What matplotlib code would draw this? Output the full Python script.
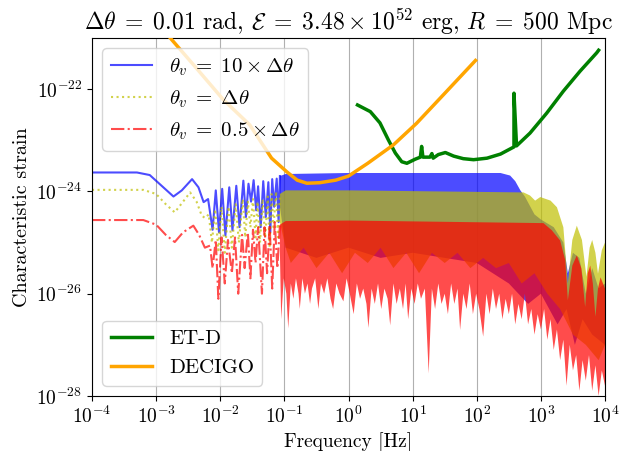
import numpy as np
import matplotlib.pyplot as plt

plt.rcParams['font.family'] = ['cmr10', 'DejaVu Serif']
plt.rcParams['mathtext.fontset'] = 'cm'
plt.rcParams['axes.formatter.use_mathtext'] = True

# log10 frequency / log10 strain, low-frequency part of each signal
blue_logf = [-4.0, -3.3, -3.1, -2.95, -2.73, -2.6, -2.44, -2.34, -2.26, -2.19,
             -2.12, -2.07, -2.02, -1.97, -1.92, -1.86, -1.81, -1.75, -1.70, -1.64,
             -1.60, -1.56, -1.52, -1.48, -1.44, -1.41, -1.37, -1.33, -1.29, -1.25,
             -1.22, -1.19, -1.16, -1.12, -1.09, -1.07]
blue_logh = [-23.63, -23.63, -23.68, -23.85, -24.10, -23.98, -23.76, -23.92, -24.21, -24.15,
             -24.75, -23.98, -24.80, -23.95, -24.86, -23.92, -24.76, -23.89, -24.70, -23.79,
             -24.50, -23.85, -24.20, -23.78, -24.37, -23.90, -24.70, -23.80, -24.50, -23.82,
             -24.80, -23.76, -24.30, -23.75, -24.60, -23.70]

yel_logf = [-4.0, -3.2, -3.0, -2.85, -2.71, -2.58, -2.47, -2.37, -2.29, -2.24,
            -2.18, -2.13, -2.08, -2.03, -1.98, -1.93, -1.87, -1.82, -1.76, -1.71,
            -1.65, -1.61, -1.57, -1.53, -1.49, -1.45, -1.42, -1.38, -1.34, -1.30,
            -1.26, -1.23, -1.20, -1.17, -1.13, -1.10, -1.07]
yel_logh = [-23.97, -23.97, -24.05, -24.25, -24.41, -24.20, -24.02, -24.20, -24.47, -24.52,
            -24.45, -25.00, -24.35, -25.15, -24.30, -25.20, -24.30, -25.10, -24.25, -25.00,
            -24.15, -24.90, -24.20, -24.70, -24.15, -24.90, -24.20, -25.00, -24.15, -24.90,
            -24.10, -25.10, -24.05, -24.70, -24.00, -24.90, -24.05]

red_logf = [-4.0, -3.2, -3.0, -2.85, -2.71, -2.58, -2.42, -2.33, -2.24, -2.16,
            -2.12, -2.07, -2.03, -1.98, -1.93, -1.88, -1.82, -1.77, -1.72, -1.66,
            -1.62, -1.57, -1.53, -1.49, -1.45, -1.41, -1.35, -1.31, -1.27, -1.23,
            -1.19, -1.15, -1.11, -1.07]
red_logh = [-24.56, -24.56, -24.65, -24.85, -24.99, -24.80, -24.67, -24.85, -25.10, -25.06,
            -25.50, -24.95, -26.10, -24.90, -25.80, -24.95, -25.60, -24.90, -26.00, -24.85,
            -25.50, -24.80, -25.70, -24.75, -25.40, -24.70, -26.00, -24.70, -25.60, -24.65,
            -25.90, -24.60, -25.50, -24.65]

# dense high-frequency bands: upper and lower edges
blue_top_f = [-1.07, -0.98, 0.0, 2.37, 2.52, 2.60, 2.68, 2.75, 2.90, 3.00, 3.20, 3.35, 3.42,
              3.50, 3.60, 3.70, 3.80, 3.90, 4.00]
blue_top_h = [-23.70, -23.66, -23.64, -23.64, -23.69, -23.80, -23.98, -24.10, -24.45, -24.55,
              -24.70, -25.00, -25.60, -25.20, -25.30, -26.00, -25.50, -25.90, -25.80]
blue_bot_f = [-1.07, -0.98, -0.5, 0.0, 0.5, 1.0, 1.5, 2.0, 2.5, 2.8, 3.0, 3.26, 3.4, 3.53,
              3.65, 3.8, 4.0]
blue_bot_h = [-24.3, -25.1, -25.3, -25.1, -25.3, -25.2, -25.3, -25.4, -25.8, -26.2, -26.0,
              -26.6, -26.3, -27.0, -26.5, -26.8, -27.0]

yel_top_f = [-1.07, -0.98, 0.0, 2.73, 2.83, 2.91, 2.99, 3.15, 3.25, 3.35, 3.42, 3.49, 3.56,
             3.64, 3.71, 3.76, 3.80, 3.85, 3.89, 3.95, 4.00]
yel_top_h = [-24.05, -23.98, -23.98, -24.02, -24.08, -24.18, -24.11, -24.18, -24.31, -24.70,
             -25.80, -24.95, -24.67, -24.95, -25.67, -25.10, -24.95, -25.20, -25.61, -25.15,
             -25.00]
yel_bot_f = [-1.07, -0.98, -0.9, -0.7, -0.5, -0.3, -0.1, 0.1, 0.3, 0.5, 0.7, 0.9, 1.1, 1.3,
             1.5, 1.7, 1.9, 2.1, 2.3, 2.5, 2.7, 2.9, 3.1, 3.3, 3.5, 3.7, 3.9, 4.0]
yel_bot_h = [-24.6, -25.1, -25.4, -25.1, -25.5, -25.2, -25.6, -25.2, -25.4, -25.1, -25.5,
             -25.2, -25.6, -25.2, -25.4, -25.2, -25.5, -25.3, -25.5, -25.4, -25.8, -25.6,
             -26.0, -26.3, -26.8, -27.0, -27.3, -27.0]

red_top_f = [-1.07, -0.98, 0.0, 3.04, 3.17, 3.30, 3.38, 3.42, 3.49, 3.56, 3.63, 3.69, 3.73,
             3.77, 3.81, 3.85, 3.89, 3.93, 4.00]
red_top_h = [-24.65, -24.58, -24.57, -24.62, -24.76, -24.96, -25.35, -26.13, -25.45, -25.25,
             -25.50, -26.26, -25.60, -25.45, -25.80, -26.45, -25.90, -25.68, -25.90]
red_bot_f = [-1.07, -1.05, -1.01, -0.97, -0.94, -0.90, -0.86, -0.82, -0.78, -0.76, -0.72,
             -0.68, -0.64, -0.60, -0.57, -0.52, -0.47, -0.43, -0.38, -0.33, -0.28, -0.24,
             -0.19, -0.14, -0.08, -0.03, 0.02, 0.08, 0.13, 0.18, 0.23, 0.28, 0.31, 0.36,
             0.41, 0.46, 0.51, 0.56, 0.61, 0.65, 0.70, 0.75, 0.80, 0.85, 0.89, 0.93, 0.98,
             1.03, 1.08, 1.13, 1.19, 1.25, 1.30, 1.35, 1.40, 1.45, 1.50, 1.55, 1.60, 1.65,
             1.70, 1.74, 1.79, 1.84, 1.89, 1.94, 1.99, 2.04, 2.10, 2.15, 2.20, 2.25, 2.30,
             2.35, 2.40, 2.45, 2.50, 2.55, 2.60, 2.65, 2.70, 2.75, 2.80, 2.85, 2.90, 2.95,
             3.00, 3.05, 3.10, 3.15, 3.20, 3.25, 3.30, 3.35, 3.40, 3.45, 3.50, 3.55, 3.60,
             3.65, 3.70, 3.75, 3.80, 3.85, 3.90, 3.95, 4.00]
red_bot_h = [-25.2, -26.5, -25.7, -26.0, -26.68, -25.8, -26.1, -25.7, -26.0, -26.3, -25.7,
             -26.0, -25.8, -26.2, -25.9, -25.7, -26.3, -25.8, -26.0, -25.7, -26.1, -26.3,
             -25.8, -26.0, -26.15, -25.7, -26.0, -26.4, -25.8, -26.1, -25.9, -26.2, -26.67, -25.9,
             -26.2, -25.8, -26.3, -25.9, -26.1, -26.62, -25.8, -26.2, -25.9, -26.3, -25.8, -26.5, -25.9,
             -26.2, -25.8, -26.1, -25.9, -27.56, -25.9, -26.3, -25.8, -26.2, -26.0, -26.4, -25.8, -26.2,
             -25.9, -26.71, -26.0, -26.3, -25.8, -26.4, -26.0, -26.3, -26.84, -26.0, -26.4, -25.9, -26.3,
             -26.0, -26.5, -26.1, -26.4, -26.0, -26.6, -26.2, -26.5, -26.0, -26.6, -26.3, -26.8, -26.4,
             -26.7, -26.3, -26.9, -26.5, -27.1, -26.7, -27.3, -26.9, -27.8, -27.0, -27.5, -27.2, -27.9,
             -27.3, -27.7, -27.2, -27.9, -27.4, -28.0, -27.5, -27.8]

# detector sensitivity curves
etd_logf = [0.14, 0.34, 0.49, 0.62, 0.73, 0.83, 0.91, 1.04, 1.12, 1.14, 1.16, 1.27, 1.30,
            1.32, 1.40, 1.51, 1.64, 1.79, 1.95, 2.16, 2.37, 2.55, 2.58, 2.58, 2.62, 2.83,
            3.09, 3.35, 3.61, 3.87, 3.90]
etd_logh = [-22.31, -22.44, -22.66, -22.99, -23.25, -23.42, -23.45, -23.37, -23.33, -23.12,
            -23.33, -23.33, -23.26, -23.35, -23.28, -23.24, -23.31, -23.36, -23.38, -23.35,
            -23.27, -23.15, -23.13, -22.08, -23.11, -22.86, -22.47, -22.04, -21.65, -21.29, -21.24]

decigo_logf = [-2.90, -2.78, -2.40, -1.95, -1.54, -1.20, -0.96, -0.80, -0.65, -0.45, -0.20,
               0.0, 0.30, 0.70, 1.06, 1.48, 1.98]
decigo_logh = [-20.80, -21.00, -21.55, -22.21, -22.70, -23.35, -23.62, -23.78, -23.84, -23.83,
               -23.78, -23.70, -23.45, -23.09, -22.67, -22.11, -21.44]


def p10(v):
    return np.power(10.0, np.asarray(v, dtype=float))


def band(ax, top_f, top_h, bot_f, bot_h, color):
    xs = np.concatenate([p10(top_f), p10(bot_f)[::-1]])
    ys = np.concatenate([p10(top_h), p10(bot_h)[::-1]])
    ax.fill(xs, ys, color=color, alpha=0.7, lw=0, zorder=2)


fig = plt.figure(figsize=(6.26, 4.51), dpi=100)
ax = fig.add_axes([0.147, 0.122, 0.8195, 0.7938])
ax.set_xscale('log')
ax.set_yscale('log')
ax.set_axisbelow(True)

l1, = ax.plot(p10(blue_logf), p10(blue_logh), 'b-', lw=1.5, alpha=0.7, zorder=2,
              label=r'$\theta_v \;=\; 10 \times \Delta\theta$')
band(ax, blue_top_f, blue_top_h, blue_bot_f, blue_bot_h, 'b')
l2, = ax.plot(p10(yel_logf), p10(yel_logh), 'y:', lw=1.5, alpha=0.7, zorder=2,
              label=r'$\theta_v \;=\; \Delta\theta$')
band(ax, yel_top_f, yel_top_h, yel_bot_f, yel_bot_h, 'y')
l3, = ax.plot(p10(red_logf), p10(red_logh), 'r-.', lw=1.5, alpha=0.7, zorder=2,
              label=r'$\theta_v \;=\; 0.5 \times \Delta\theta$')
band(ax, red_top_f, red_top_h, red_bot_f, red_bot_h, 'r')

l4, = ax.plot(p10(etd_logf), p10(etd_logh), color='green', lw=2.5, zorder=3, label='ET-D')
l5, = ax.plot(p10(decigo_logf), p10(decigo_logh), color='orange', lw=2.5, zorder=3,
              label='DECIGO')

ax.set_xlim(1e-4, 1e4)
ax.set_ylim(1e-28, 1e-21)
ax.set_xticks(p10(range(-4, 5)))
ax.set_yticks(p10([-28, -26, -24, -22]))
ax.xaxis.set_minor_locator(plt.NullLocator())
ax.yaxis.set_minor_locator(plt.NullLocator())
ax.tick_params(labelsize=14)
ax.xaxis.grid(True, color='#b0b0b0', lw=0.8)

ax.set_xlabel('Frequency [Hz]', fontsize=14)
ax.set_ylabel('Characteristic strain', fontsize=14.5)
ax.set_title(r'$\Delta\theta \;=\; 0.01$ rad, $\mathcal{E} \;=\; 3.48 \times 10^{52}$ erg, '
             r'$R \;=\; 500$ Mpc', fontsize=17)

leg1 = ax.legend(handles=[l1, l2, l3], loc='upper left', fontsize=15)
ax.add_artist(leg1)
ax.legend(handles=[l4, l5], loc='lower left', fontsize=15)

fig.savefig('out.png', dpi=100)
